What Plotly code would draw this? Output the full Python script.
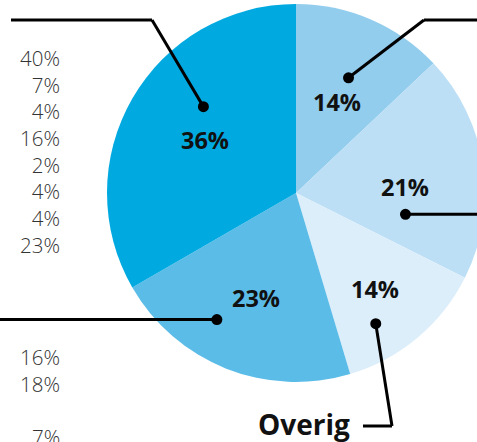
import math
import plotly.graph_objects as go

# ---- data ----
slice_labels = ["A", "B", "Overig", "D", "E"]
slice_values = [14, 21, 14, 23, 36]
slice_text = ["14%", "21%", "14%", "23%", "36%"]
side_values_a = ["40%", "7%", "4%", "16%", "2%", "4%", "4%", "23%"]
side_values_b = ["16%", "18%"]
side_values_c = ["7%"]
callout_label = "Overig"

colors = ["#92CDEE", "#BCDFF5", "#DDEEFB", "#5CBCE8", "#00AAE1"]

W, H = 492, 442
R = 189.0
CX = 296.0
CY = 193.0


def px(x):
    return x / W


def py(y):
    return 1 - y / H


def polar(angle_deg, frac):
    a = math.radians(angle_deg)
    return CX + frac * R * math.sin(a), CY - frac * R * math.cos(a)


fig = go.Figure(go.Pie(
    labels=slice_labels,
    values=slice_values,
    sort=False,
    direction="clockwise",
    rotation=0,
    marker=dict(colors=colors, line=dict(width=0)),
    textinfo="none",
    hoverinfo="skip",
    showlegend=False,
    domain=dict(x=[(CX - R) / W, (CX + R) / W], y=[(H - CY - R) / H, (H - CY + R) / H]),
))

total = sum(slice_values)
mids = []
acc = 0
for v in slice_values:
    mids.append((acc + v / 2) / total * 360)
    acc += v

label_offset = [1.0, 5.0, 0.4, -0.8, 0.2]
label_frac = [0.53, 0.58, 0.656, 0.592, 0.557]
annotations = []
for t, m, o, f in zip(slice_text, mids, label_offset, label_frac):
    x, y = polar(m + o, f)
    annotations.append(dict(x=px(x), y=py(y), xref="paper", yref="paper", text=t,
                            showarrow=False, xanchor="center", yanchor="middle",
                            font=dict(family="Open Sans", size=23.5, color="#111111", weight=700)))

dot_pos = [(24.5, 0.67), (101, 0.59), (148.6, 0.81), (212, 0.79), (313, 0.67)]
dots = [polar(a, f) for a, f in dot_pos]

shapes = []
line_style = dict(color="#000000", width=3)


def seg(x0, y0, x1, y1):
    shapes.append(dict(type="line", xref="paper", yref="paper",
                       x0=px(x0), y0=py(y0), x1=px(x1), y1=py(y1), line=line_style))


d = dots[0]
seg(W, 20, 424, 20)
seg(424, 20, d[0], d[1])
d = dots[1]
seg(d[0], d[1], W, d[1])
d = dots[2]
seg(d[0], d[1], 392, 426)
seg(392, 426, 363, 426)
d = dots[3]
seg(0, d[1], d[0], d[1])
d = dots[4]
seg(11, 20, 152, 20)
seg(152, 20, d[0], d[1])

for (x, y) in dots:
    rr = 5.5
    shapes.append(dict(type="circle", xref="paper", yref="paper",
                       x0=px(x - rr), x1=px(x + rr), y0=py(y + rr), y1=py(y - rr),
                       fillcolor="#000000", line=dict(width=0)))

annotations.append(dict(x=px(352), y=py(424), xref="paper", yref="paper", text=callout_label,
                        showarrow=False, xanchor="right", yanchor="middle",
                        font=dict(family="Open Sans", size=28, color="#111111", weight=700)))

side_font = dict(family="Open Sans", size=20.5, color="#333333", weight=300)
side_blocks = [
    (side_values_a, (58 + 244) / 2),
    (side_values_b, (357.5 + 384) / 2),
    (side_values_c, 436.5),
]
for vals, yc in side_blocks:
    annotations.append(dict(x=px(62), y=py(yc), xref="paper", yref="paper",
                            text="<br>".join(vals), align="right",
                            showarrow=False, xanchor="right", yanchor="middle",
                            font=side_font))

fig.update_layout(
    width=W, height=H,
    margin=dict(l=0, r=0, t=0, b=0),
    paper_bgcolor="#ffffff",
    plot_bgcolor="#ffffff",
    annotations=annotations,
    shapes=shapes,
)

fig.write_html(
    "out.html",
    post_script="document.documentElement.style.overflow='hidden';document.body.style.overflow='hidden';",
)
